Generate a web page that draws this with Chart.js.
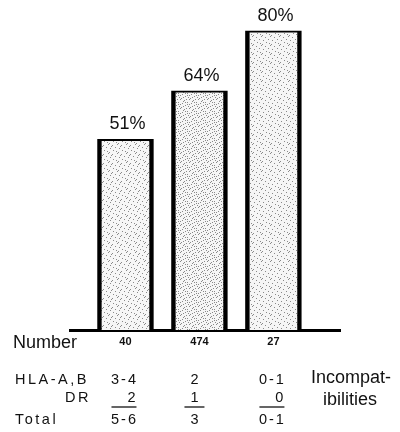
<!DOCTYPE html>
<html>
<head>
<meta charset="utf-8">
<script src="https://cdn.jsdelivr.net/npm/chart.js@4"></script>
<style>
  html, body { margin: 0; padding: 0; background: #fff; }
  #wrap { width: 400px; height: 432px; position: relative; }
</style>
</head>
<body>
<div id="wrap"><canvas id="c" width="400" height="432"></canvas></div>
<script>
// ---- data ----
const positions = [1, 2, 3];
const values = [51, 64, 80];
const numbers = ['40', '474', '27'];
const hlaAB = ['3-4', '2', '0-1'];
const dr = ['2', '1', '0'];
const totals = ['5-6', '3', '0-1'];
const rowLabels = ['HLA-A,B', 'DR', 'Total'];
const sideLabel = ['Incompat-', 'ibilities'];
const numberLabel = 'Number';

// ---- styles ----
function stipple(density) {
  const c = document.createElement('canvas');
  c.width = 9; c.height = 9;
  const g = c.getContext('2d');
  g.fillStyle = '#f6f6f6';
  g.fillRect(0, 0, 9, 9);
  g.fillStyle = '#8a8a8a';
  const pts = [[0,0],[4,1],[7,3],[2,4],[5,6],[8,7],[1,8],[3,2],[6,0],[0,5],[7,5],[3,7],[5,3],[1,2],[8,1],[4,8]];
  for (let i = 0; i < density; i++) g.fillRect(pts[i][0], pts[i][1], 1, 1);
  return g.createPattern(c, 'repeat');
}
const fills = [stipple(8), stipple(13), stipple(7)];
const FONT = '"Liberation Sans", Arial, sans-serif';

const tablePlugin = {
  id: 'tablePlugin',
  afterDatasetsDraw(chart) {
    const ctx = chart.ctx;
    const meta = chart.getDatasetMeta(0);
    ctx.save();
    ctx.fillStyle = '#111';
    ctx.font = '18px ' + FONT;
    ctx.textAlign = 'center';
    ctx.textBaseline = 'alphabetic';
    meta.data.forEach((el, i) => {
      ctx.fillText(values[i] + '%', el.x + 2, el.y - 10);
    });
    ctx.restore();
  },
  afterDraw(chart) {
    const ctx = chart.ctx;
    const xs = chart.scales.x;
    ctx.save();
    ctx.fillStyle = '#111';
    ctx.strokeStyle = '#111';
    ctx.textBaseline = 'middle';
    // Number label
    ctx.font = '18px ' + FONT;
    ctx.textAlign = 'left';
    ctx.fillText(numberLabel, 13, 343);
    // row labels
    ctx.font = '14.5px ' + FONT;
    ctx.letterSpacing = '2.5px';
    ctx.fillText(rowLabels[0], 15, 380);
    ctx.textAlign = 'right';
    ctx.fillText(rowLabels[1], 91, 398);
    ctx.textAlign = 'left';
    ctx.fillText(rowLabels[2], 15, 420);
    ctx.letterSpacing = '2px';
    // columns
    const rowOff = [-2, -5, -2];
    positions.forEach((p, i) => {
      const cx = xs.getPixelForValue(p) + rowOff[i];
      ctx.textAlign = 'center';
      ctx.fillText(hlaAB[i], cx + 1, 380);
      ctx.fillText(totals[i], cx + 1, 420);
      if (i === 1) {
        ctx.fillText(dr[i], cx + 1, 398);
      } else {
        ctx.textAlign = 'right';
        ctx.fillText(dr[i], cx + 14, 398);
      }
      ctx.lineWidth = 1.3;
      ctx.beginPath();
      const hw = i === 1 ? 10 : 12;
      ctx.moveTo(cx - hw, 407);
      ctx.lineTo(cx + hw + (i === 1 ? 0 : 1), 407);
      ctx.stroke();
    });
    // side label
    ctx.letterSpacing = '0px';
    ctx.font = '18px ' + FONT;
    ctx.textAlign = 'center';
    ctx.fillText(sideLabel[0], 351, 378);
    ctx.fillText(sideLabel[1], 350, 400);
    ctx.restore();
  }
};

new Chart(document.getElementById('c'), {
  type: 'bar',
  data: {
    datasets: [{
      data: positions.map((x, i) => ({ x: x, y: values[i] })),
      backgroundColor: fills,
      borderColor: '#000',
      borderWidth: { left: 4.5, right: 4.5, top: 2, bottom: 0 },
      borderSkipped: false,
      barThickness: 56
    }]
  },
  options: {
    responsive: false,
    animation: false,
    devicePixelRatio: 1,
    layout: { padding: { left: 70, right: 60, top: 1, bottom: 0 } },
    plugins: { legend: { display: false }, tooltip: { enabled: false } },
    scales: {
      x: {
        type: 'linear',
        offset: false,
        min: 0.25,
        max: 3.9,
        grid: { display: false, drawTicks: false, offset: false },
        border: { display: true, color: '#000', width: 3 },
        afterBuildTicks: (s) => { s.ticks = positions.map(v => ({ value: v })); },
        afterFit: (s) => { s.height = 102; },
        ticks: {
          autoSkip: false,
          maxRotation: 0,
          padding: 5,
          color: '#111',
          font: { family: FONT, size: 11, weight: 'bold' },
          callback: (v) => numbers[positions.indexOf(v)]
        }
      },
      y: {
        display: false,
        min: 0,
        max: 88
      }
    }
  },
  plugins: [tablePlugin]
});
</script>
</body>
</html>
